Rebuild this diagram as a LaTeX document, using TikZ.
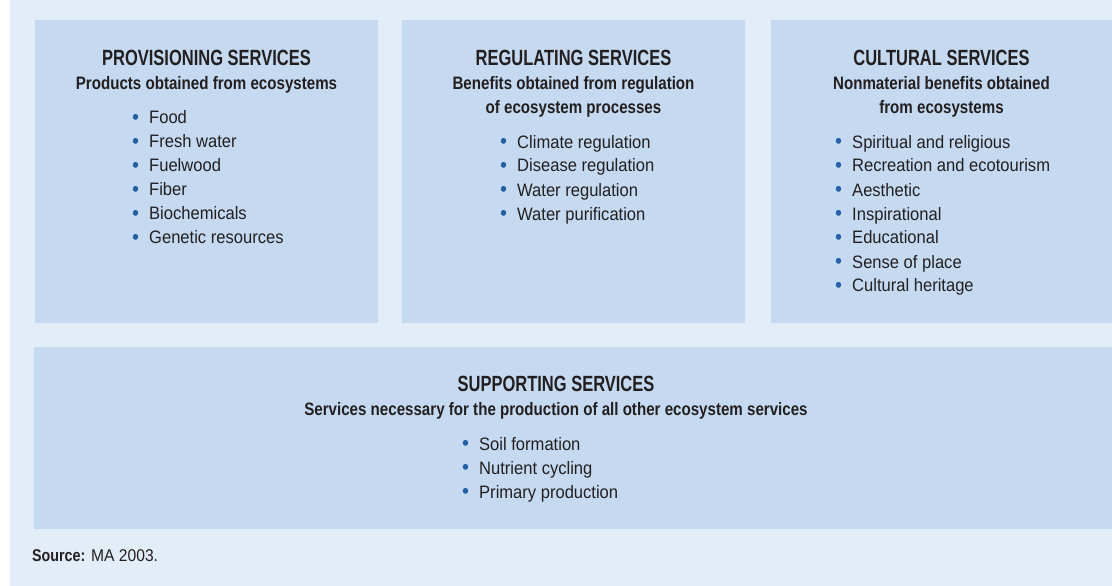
\documentclass[tikz,border=0pt]{standalone}
\usepackage{fontspec}
\setmainfont{Liberation Sans}
\newfontfamily\headfont{Liberation Sans}[FakeStretch=0.75]
\newfontfamily\subfont{Liberation Sans}[FakeStretch=0.84]
\newfontfamily\itemfont{Liberation Sans}[FakeStretch=0.92]
\usepackage{xcolor}
\usetikzlibrary{positioning}

\definecolor{pagebg}{HTML}{E3EDF7}
\definecolor{boxbg}{HTML}{C5DAF0}
\definecolor{dotblue}{HTML}{1F5FAA}
\definecolor{ink}{HTML}{231F20}
\newcommand{\bul}{\makebox[17pt][l]{\raisebox{-0.4pt}{\scalebox{1.2}{\textcolor{dotblue}{\textbullet}}}}}

\begin{document}
\begin{tikzpicture}[
  x=1pt, y=-1pt,
  every node/.style = {text=ink, inner sep=0pt},
  svcbox/.style = {fill=boxbg, anchor=north west, minimum height=303pt},
  head/.style   = {font=\headfont\bfseries\fontsize{22}{24}\selectfont, anchor=base},
  sub/.style    = {font=\subfont\bfseries\fontsize{18}{24}\selectfont, anchor=base},
  items/.style  = {font=\itemfont\fontsize{18}{24}\selectfont, anchor=base west},
]
\useasboundingbox (0,0) rectangle (1112,586);
\fill[pagebg] (10,0) rectangle (1112,586);

%% ---------- top row ----------
\node[svcbox, minimum width=343pt] (prov) at (35,20)  {};
\node[svcbox, minimum width=343pt] (reg)  at (402,20) {};
\node[svcbox, minimum width=341pt] (cult) at (771,20) {};

% provisioning
\node[head] (provT) at (206.5,66) {PROVISIONING SERVICES};
\node[sub]  (provS) at (206.5,90) {Products obtained from ecosystems};
\node[items] (provL) at (132,124) {\begin{tabular}[t]{@{}l@{}}
  \bul Food\\ \bul Fresh water\\ \bul Fuelwood\\ \bul Fiber\\
  \bul Biochemicals\\ \bul Genetic resources\end{tabular}};

% regulating
\node[head] (regT) at (573.5,66) {REGULATING SERVICES};
\node[sub]  (regS) at (573.5,90) {\begin{tabular}[t]{@{}c@{}}
  Benefits obtained from regulation\\ of ecosystem processes\end{tabular}};
\node[items] (regL) at (500,148) {\begin{tabular}[t]{@{}l@{}}
  \bul Climate regulation\\ \bul Disease regulation\\
  \bul Water regulation\\ \bul Water purification\end{tabular}};

% cultural
\node[head] (cultT) at (941.5,66) {CULTURAL SERVICES};
\node[sub]  (cultS) at (941.5,90) {\begin{tabular}[t]{@{}c@{}}
  Nonmaterial benefits obtained\\ from ecosystems\end{tabular}};
\node[items] (cultL) at (835,148) {\begin{tabular}[t]{@{}l@{}}
  \bul Spiritual and religious\\ \bul Recreation and ecotourism\\
  \bul Aesthetic\\ \bul Inspirational\\ \bul Educational\\
  \bul Sense of place\\ \bul Cultural heritage\end{tabular}};

%% ---------- supporting ----------
\node[svcbox, minimum width=1078pt, minimum height=182pt] (supp) at (34,347) {};
\node[head] (suppT) at (556,391) {SUPPORTING SERVICES};
\node[sub]  (suppS) at (556,415) {Services necessary for the production of all other ecosystem services};
\node[items] (suppL) at (462,450) {\begin{tabular}[t]{@{}l@{}}
  \bul Soil formation\\ \bul Nutrient cycling\\ \bul Primary production\end{tabular}};

%% source line
\node[items, font=\itemfont\fontsize{17}{20}\selectfont] (src) at (32,561)
  {{\subfont\bfseries Source:} MA 2003.};
\end{tikzpicture}
\end{document}
